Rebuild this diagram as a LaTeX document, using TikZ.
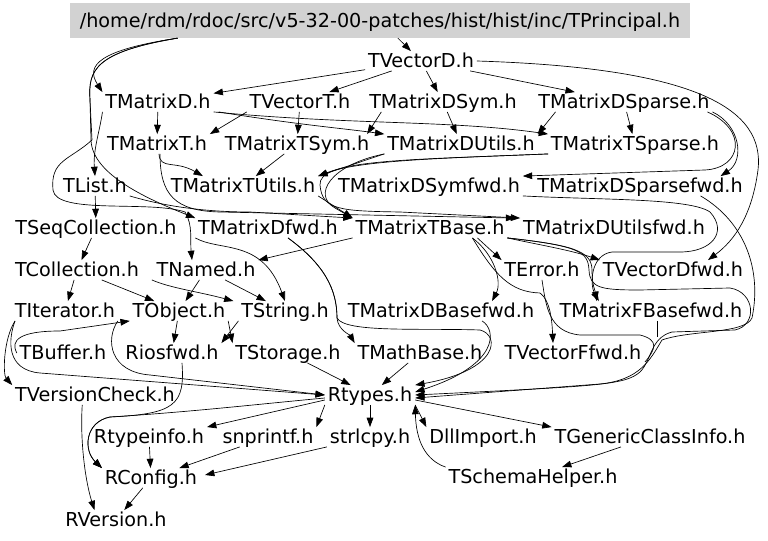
\documentclass[tikz,border=0pt]{standalone}
\usepackage{fontspec}
\setmainfont{DejaVu Sans}
\usepackage{tikz}
\usetikzlibrary{calc,arrows.meta,positioning}

\newcommand\hfont{\fontsize{14.4}{16}\selectfont}
\tikzset{
  hfile/.style={font=\hfont, inner xsep=2pt, inner ysep=2pt, text height=10.5pt, text depth=0pt},
  topfile/.style={hfile, fill=gray!35, minimum width=465pt, minimum height=26pt},
  dep/.style={-{Triangle[length=7pt,width=5pt]}, line width=0.5pt},
}

\begin{document}
\begin{tikzpicture}[x=0.75pt,y=-0.75pt]
\useasboundingbox (0,0) rectangle (768,541);

\node[topfile] (hdr) at (380,20.5) {/home/rdm/rdoc/src/v5-32-00-patches/hist/hist/inc/TPrincipal.h};
\node[hfile] (tvd) at (421,61) {TVectorD.h};
\node[hfile] (tmd) at (158,102) {TMatrixD.h};
\node[hfile] (tvt) at (300,102) {TVectorT.h};
\node[hfile] (tmds) at (443,102) {TMatrixDSym.h};
\node[hfile] (tmdsp) at (624,102) {TMatrixDSparse.h};
\node[hfile] (tmt) at (157,144) {TMatrixT.h};
\node[hfile] (tmts) at (297,144) {TMatrixTSym.h};
\node[hfile] (tmdu) at (461,144) {TMatrixDUtils.h};
\node[hfile] (tmtsp) at (635,144) {TMatrixTSparse.h};
\node[hfile] (tlist) at (95,186) {TList.h};
\node[hfile] (tmtu) at (243,186) {TMatrixTUtils.h};
\node[hfile] (tmdsf) at (429,186) {TMatrixDSymfwd.h};
\node[hfile] (tmdspf) at (640,186) {TMatrixDSparsefwd.h};
\node[hfile] (tseq) at (96,228) {TSeqCollection.h};
\node[hfile] (tmdf) at (268,228) {TMatrixDfwd.h};
\node[hfile] (tmtb) at (430,228) {TMatrixTBase.h};
\node[hfile] (tmduf) at (614,228) {TMatrixDUtilsfwd.h};
\node[hfile] (tcoll) at (77,270) {TCollection.h};
\node[hfile] (tnamed) at (206,270) {TNamed.h};
\node[hfile] (terr) at (542,270) {TError.h};
\node[hfile] (tvdf) at (673,270) {TVectorDfwd.h};
\node[hfile] (titer) at (65,311) {TIterator.h};
\node[hfile] (tobj) at (179,311) {TObject.h};
\node[hfile] (tstr) at (285,311) {TString.h};
\node[hfile] (tmdbf) at (441,311) {TMatrixDBasefwd.h};
\node[hfile] (tmfbf) at (651,311) {TMatrixFBasefwd.h};
\node[hfile] (tbuf) at (63,353) {TBuffer.h};
\node[hfile] (rios) at (172,353) {Riosfwd.h};
\node[hfile] (tstor) at (288,353) {TStorage.h};
\node[hfile] (tmath) at (420,353) {TMathBase.h};
\node[hfile] (tvff) at (573,353) {TVectorFfwd.h};
\node[hfile] (tvc) at (95,395) {TVersionCheck.h};
\node[hfile] (rtypes) at (370,395) {Rtypes.h};
\node[hfile] (rti) at (149,437) {Rtypeinfo.h};
\node[hfile] (snp) at (268,437) {snprintf.h};
\node[hfile] (strl) at (370,437) {strlcpy.h};
\node[hfile] (dll) at (483,437) {DllImport.h};
\node[hfile] (tgci) at (650,437) {TGenericClassInfo.h};
\node[hfile] (rconf) at (151,478) {RConfig.h};
\node[hfile] (tsh) at (533,477) {TSchemaHelper.h};
\node[hfile] (rver) at (116,520) {RVersion.h};

% top of the graph
\draw[dep] (hdr) -- (tvd);
\draw[dep] ($(hdr.south west)+(108,0)$) .. controls (100,50) and (85,65) .. (tmd.north west);
\draw[dep] ($(hdr.south west)+(108,0)$) .. controls (95,52) and (88,70) .. (90,100) -- (91,140)
  .. controls (92,175) and (150,200) .. (tmdf.north west);
\draw[dep] ($(hdr.south west)+(108,0)$) .. controls (95,52) and (88,70) .. (90,100) -- (92,140)
  .. controls (70,160) and (50,160) .. (53,190) .. controls (56,215) and (150,200) .. (185,212)
  .. controls (193,225) and (190,240) .. ($(tnamed.north)+(-14,0)$);
\draw[dep] (tvd) -- (tmd);
\draw[dep] (tvd) -- (tvt);
\draw[dep] (tvd) -- (tmds);
\draw[dep] (tvd) -- (tmdsp);
\draw[dep] (tvd.east) .. controls (700,68) and (765,110) .. (758,170)
  .. controls (752,215) and (735,240) .. ($(tvdf.north)+(35,0)$);

% matrix headers
\draw[dep] (tmd) -- (tmt);
\draw[dep] (tmd.south west) .. controls (100,130) and (93,150) .. (tlist.north);
\draw[dep] (tvt.south west) -- (tmt.north east);
\draw[dep] (tvt) -- (tmts);
\draw[dep] ($(tmd.south east)+(5,0)$) .. controls (300,125) and (340,128) .. (tmdu.north west);
\draw[dep] (tmd.south east) .. controls (350,125) and (450,120) .. (tmtsp.north west);
\draw[dep] ($(tmds.south west)+(15,0)$) -- ($(tmts.north east)+(-5,0)$);
\draw[dep] (tmds) -- (tmdu);
\draw[dep] ($(tmdsp.south west)+(20,0)$) -- (tmdu.north east);
\draw[dep] (tmdsp) -- (tmtsp);
\draw[dep] (tmdsp.south east) .. controls (740,125) and (745,160) .. ($(tmdspf.north east)+(-25,0)$);
\draw[dep] ($(tmdsp.south east)+(-5,0)$) .. controls (748,130) and (742,168) .. (705,170) -- (tmdsf.north east);
\draw[dep] ($(tmt.south)+(2,0)$) .. controls (160,170) and (175,160) .. ($(tmtu.north west)+(35,0)$);
\draw[dep] (tmts) -- (tmtu);
\draw[dep] (tmdu.south west) -- (tmtu.north east);
\draw[dep] (tmtsp.south west) .. controls (450,158) and (360,160) .. (tmtu.north east);
\draw[dep] (tmdu.south west) .. controls (330,165) and (312,195) .. (335,208) -- (tmtb.north west);
\draw[dep] (tmtsp.south west) .. controls (400,160) and (318,160) .. (320,185)
  .. controls (322,210) and (340,211) .. (400,212) -- (tmduf.north west);
\draw[dep] (tmtu.south east) -- (tmtb.north west);
\draw[dep] (tlist.south east) .. controls (160,205) and (200,212) .. (250,212) -- (tmtb.north west);
\draw[dep] ($(tmt.south)+(3,0)$) .. controls (160,195) and (175,211) .. (220,212) -- ($(tmduf.north west)+(-5,0)$);
\draw[dep] (tmdsf.south east) .. controls (600,200) and (690,198) .. (710,212)
  .. controls (728,232) and (712,252) .. (680,252) -- (612,252)
  .. controls (590,255) and (590,285) .. ($(tmfbf.north west)+(42,0)$);

% collections
\draw[dep] (tlist) -- (tseq);
\draw[dep] (tseq) -- (tcoll);
\draw[dep] (tcoll) -- (titer);
\draw[dep] (tcoll) -- (tobj);
\draw[dep] ($(tcoll.south east)+(10,0)$) .. controls (170,288) and (200,292) .. ($(tstr.north west)+(-5,0)$);
\draw[dep] (tnamed) -- (tobj);
\draw[dep] (tnamed) -- (tstr);
\draw[dep] (tmdf.south west) .. controls (220,252) and (262,238) .. (tstr.north);
\draw[dep] (tmtb.south west) -- (tnamed.north east);

% base and forward headers
\draw[dep] ($(tmdf.south)+(20,0)$) .. controls (325,265) and (337,290) .. (337,318)
  .. controls (338,330) and (350,335) .. (tmath.north west);
\draw[dep] ($(tmdf.south)+(20,0)$) .. controls (325,265) and (337,290) .. (337,318)
  .. controls (345,333) and (420,328) .. (480,330) .. controls (500,335) and (500,370) .. (rtypes.north east);
\draw[dep] ($(tmdbf.south east)+(-55,0)$) .. controls (497,330) and (499,365) .. ($(rtypes.east)+(0,-3)$);
\draw[dep] ($(tmtb.south east)+(-30,0)$) -- (terr.north west);
\draw[dep] ($(tmtb.south east)+(-35,0)$) .. controls (495,255) and (502,282) .. ($(tmdbf.north east)+(-45,0)$);
\draw[dep] ($(tmtb.south east)+(-35,0)$) .. controls (495,275) and (510,292) .. (540,293)
  .. controls (550,300) and (552,320) .. ($(tvff.north)+(-20,0)$);
\draw[dep] (tmtb.south east) .. controls (540,245) and (570,250) .. (tvdf.north west);
\draw[dep] (tmtb.south east) .. controls (570,245) and (592,250) .. (592,270)
  .. controls (592,285) and (595,290) .. ($(tmfbf.north west)+(40,0)$);
\draw[dep] (tmtb.south east) .. controls (580,246) and (588,252) .. (589,270)
  .. controls (590,288) and (600,290) .. (640,290) -- (730,288)
  .. controls (755,292) and (758,325) .. (735,330) -- (672,332)
  .. controls (650,338) and (652,360) .. (640,372) .. controls (625,385) and (600,386) .. (rtypes.east);
\draw[dep] ($(tmdspf.south east)+(-45,0)$) .. controls (745,222) and (762,270) .. (752,318)
  .. controls (745,334) and (690,330) .. (662,340) .. controls (650,360) and (640,380) .. (600,384)
  -- ($(rtypes.east)+(0,3)$);
\draw[line width=0.5pt] (terr.south) .. controls (546,305) and (548,332) .. (580,335) -- (640,335)
  .. controls (660,340) and (655,350) .. (645,362);
\draw[line width=0.5pt] (tmfbf.south -| 657,0) -- (657,337);

% core headers
\draw[dep] (tobj) -- (rios);
\draw[dep] (tobj.south east) -- (tstor.north west);
\draw[dep] (tstr.south west) -- (rios.north east);
\draw[dep] (tstor) -- (rtypes);
\draw[dep] (tmath) -- (rtypes);
\draw[dep] (tbuf.west) .. controls (10,340) and (20,331) .. (60,331) -- (tobj.south west);
\draw[dep] ($(tobj.south west)+(-12,0)$) .. controls (105,340) and (110,372) .. (150,375) -- (rtypes.west);
\draw[dep] ($(titer.south west)+(3,0)$) .. controls (3,340) and (3,375) .. (tvc.north west);
\draw[dep] ($(titer.south west)+(3,0)$) .. controls (8,340) and (6,370) .. (40,373) -- (rtypes.west);

% bottom of the graph
\draw[dep] ($(rtypes.west)+(0,5)$) -- (rti.north east);
\draw[dep] (rtypes.south west) -- (snp.north east);
\draw[dep] (rtypes) -- (strl);
\draw[dep] (rtypes.south east) -- (dll.north west);
\draw[dep] ($(rtypes.east)+(0,5)$) -- (tgci.north west);
\draw[dep] (tsh.north west) .. controls (425,460) and (416,440) .. (rtypes.south east);
\draw[dep] (tgci) -- (tsh);
\draw[dep] ($(rtypes.west)+(0,3)$) .. controls (250,405) and (190,412) .. (110,417)
  .. controls (85,422) and (83,450) .. (rconf.north west);
\draw[dep] ($(rios.south)+(10,0)$) .. controls (185,405) and (175,414) .. (110,417)
  .. controls (85,422) and (83,450) .. (rconf.north west);
\draw[dep] ($(tvc.south west)+(70,0)$) .. controls (80,440) and (85,480) .. ($(rver.north west)+(32,0)$);
\draw[dep] (rti) -- (rconf);
\draw[dep] (snp) -- (rconf);
\draw[dep] (strl.south west) -- ($(rconf.east)+(5,-3)$);
\draw[dep] (rconf) -- (rver);
\end{tikzpicture}
\end{document}
